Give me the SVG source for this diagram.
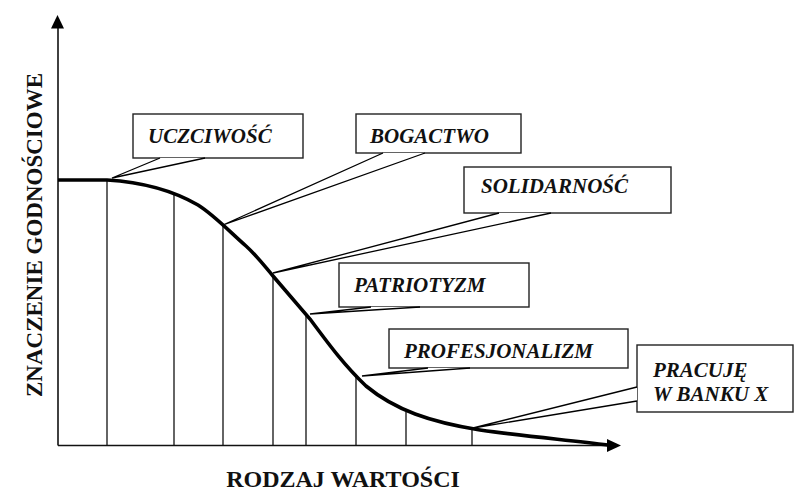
<svg xmlns="http://www.w3.org/2000/svg" width="795" height="492" viewBox="0 0 795 492">
<style>
.box{fill:#fff;stroke:#222;stroke-width:1.4}
.wedge{fill:#fff;stroke:#000;stroke-width:1.3;stroke-linejoin:miter}
.lbl{font-family:"Liberation Serif","Times New Roman",serif;font-style:italic;font-weight:bold;font-size:21px;fill:#111}
.ax{font-family:"Liberation Serif","Times New Roman",serif;font-weight:bold;fill:#111}
.vl{stroke:#111;stroke-width:1.3}
</style>
<rect width="795" height="492" fill="#fff"/>
<g id="connectors">
  <line x1="58" y1="28" x2="58" y2="445.5" stroke="#111" stroke-width="1.6"/>
  <polygon points="51,28.5 57.5,15 64,28.5" fill="#000"/>
  <line x1="58" y1="445.5" x2="608" y2="445.5" stroke="#111" stroke-width="1.6"/>
  <polygon points="607,439 621,445.5 607,452" fill="#000"/>
  <line class="vl" x1="107" y1="180" x2="107" y2="445"/>
  <line class="vl" x1="174" y1="194" x2="174" y2="445"/>
  <line class="vl" x1="223" y1="226" x2="223" y2="445"/>
  <line class="vl" x1="273" y1="275" x2="273" y2="445"/>
  <line class="vl" x1="306" y1="314" x2="306" y2="445"/>
  <line class="vl" x1="356" y1="376" x2="356" y2="445"/>
  <line class="vl" x1="406" y1="412" x2="406" y2="445"/>
  <line class="vl" x1="472" y1="428" x2="472" y2="445"/>
  <path d="M58,180 L107,180 C140,182 172,190 198,205 C214,215 230,232 246,246 C256,255 262,263 273,276 L310,319 C330,346 345,366 366,386 C395,410 430,422 480,430 C530,437 570,440 608,445" fill="none" stroke="#000" stroke-width="3.6"/>
</g>
<g id="n-uczciwosc">
  <rect class="box" x="133" y="114" width="170" height="44"/>
  <polyline class="wedge" points="160,158 112,178 205,158"/>
  <text class="lbl" x="148" y="143">UCZCIWOŚĆ</text>
</g>
<g id="n-bogactwo">
  <rect class="box" x="356" y="114" width="165" height="39"/>
  <polyline class="wedge" points="383,153 223,225 425,153"/>
  <text class="lbl" x="370" y="143">BOGACTWO</text>
</g>
<g id="n-solidarnosc">
  <rect class="box" x="464" y="167" width="207" height="46"/>
  <polyline class="wedge" points="499,213 273,273 551,213"/>
  <text class="lbl" x="481" y="193">SOLIDARNOŚĆ</text>
</g>
<g id="n-patriotyzm">
  <rect class="box" x="339" y="263" width="190" height="44"/>
  <polyline class="wedge" points="371,307 310,314 420,307"/>
  <text class="lbl" x="354" y="292">PATRIOTYZM</text>
</g>
<g id="n-profesjonalizm">
  <rect class="box" x="389" y="329" width="239" height="39"/>
  <polyline class="wedge" points="428,368 362,376 470,368"/>
  <text class="lbl" x="404" y="358">PROFESJONALIZM</text>
</g>
<g id="n-pracuje">
  <rect class="box" x="637" y="345" width="156" height="67"/>
  <polyline class="wedge" points="637,387 473,428 637,401"/>
  <text class="lbl" x="653" y="377">PRACUJĘ</text>
  <text class="lbl" x="653" y="401">W BANKU X</text>
</g>
<g id="axis-labels">
  <text class="ax" font-size="23" text-anchor="middle" transform="translate(42,235) rotate(-90)">ZNACZENIE GODNOŚCIOWE</text>
  <text class="ax" font-size="24" text-anchor="middle" x="343" y="487">RODZAJ WARTOŚCI</text>
</g>
</svg>
